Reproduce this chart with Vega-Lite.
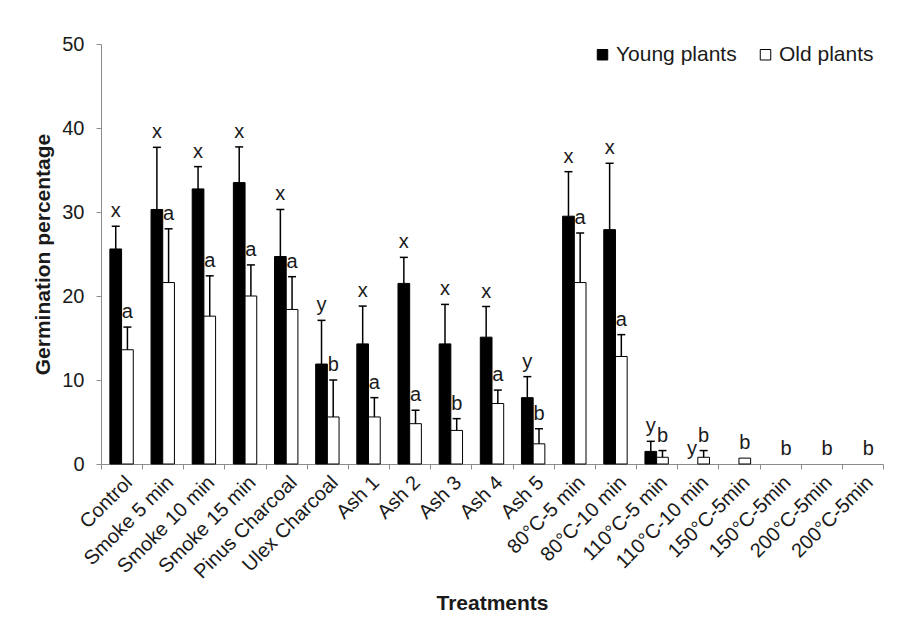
{
  "$schema": "https://vega.github.io/schema/vega-lite/v6.json",
  "autosize": {"type": "none"},
  "width": 782,
  "height": 420,
  "padding": {"left": 101, "top": 44, "right": 15, "bottom": 155},
  "background": "white",
  "config": {
    "font": "Liberation Sans",
    "view": {"stroke": null},
    "axis": {"grid": false, "domainColor": "#8c8c8c", "tickColor": "#8c8c8c", "labelColor": "#1a1a1a", "titleColor": "#1a1a1a", "labelFont": "Liberation Sans", "titleFont": "Liberation Sans"}
  },
  "data": {
    "values": [
      {"treatment": "Control", "group": "Young plants", "mean": 25.6, "upper": 28.3, "letter": "x"},
      {"treatment": "Control", "group": "Old plants", "mean": 13.6, "upper": 16.3, "letter": "a"},
      {"treatment": "Smoke 5 min", "group": "Young plants", "mean": 30.3, "upper": 37.7, "letter": "x"},
      {"treatment": "Smoke 5 min", "group": "Old plants", "mean": 21.6, "upper": 28.0, "letter": "a"},
      {"treatment": "Smoke 10 min", "group": "Young plants", "mean": 32.75, "upper": 35.4, "letter": "x"},
      {"treatment": "Smoke 10 min", "group": "Old plants", "mean": 17.6, "upper": 22.4, "letter": "a"},
      {"treatment": "Smoke 15 min", "group": "Young plants", "mean": 33.5, "upper": 37.75, "letter": "x"},
      {"treatment": "Smoke 15 min", "group": "Old plants", "mean": 20.0, "upper": 23.7, "letter": "a"},
      {"treatment": "Pinus Charcoal", "group": "Young plants", "mean": 24.7, "upper": 30.3, "letter": "x"},
      {"treatment": "Pinus Charcoal", "group": "Old plants", "mean": 18.4, "upper": 22.3, "letter": "a"},
      {"treatment": "Ulex Charcoal", "group": "Young plants", "mean": 11.9, "upper": 17.1, "letter": "y"},
      {"treatment": "Ulex Charcoal", "group": "Old plants", "mean": 5.6, "upper": 10.0, "letter": "b"},
      {"treatment": "Ash 1", "group": "Young plants", "mean": 14.3, "upper": 18.8, "letter": "x"},
      {"treatment": "Ash 1", "group": "Old plants", "mean": 5.6, "upper": 7.9, "letter": "a"},
      {"treatment": "Ash 2", "group": "Young plants", "mean": 21.5, "upper": 24.6, "letter": "x"},
      {"treatment": "Ash 2", "group": "Old plants", "mean": 4.8, "upper": 6.4, "letter": "a"},
      {"treatment": "Ash 3", "group": "Young plants", "mean": 14.3, "upper": 19.0, "letter": "x"},
      {"treatment": "Ash 3", "group": "Old plants", "mean": 4.0, "upper": 5.4, "letter": "b"},
      {"treatment": "Ash 4", "group": "Young plants", "mean": 15.1, "upper": 18.75, "letter": "x"},
      {"treatment": "Ash 4", "group": "Old plants", "mean": 7.2, "upper": 8.8, "letter": "a"},
      {"treatment": "Ash 5", "group": "Young plants", "mean": 7.9, "upper": 10.4, "letter": "y"},
      {"treatment": "Ash 5", "group": "Old plants", "mean": 2.4, "upper": 4.2, "letter": "b"},
      {"treatment": "80°C-5 min", "group": "Young plants", "mean": 29.5, "upper": 34.8, "letter": "x"},
      {"treatment": "80°C-5 min", "group": "Old plants", "mean": 21.6, "upper": 27.5, "letter": "a"},
      {"treatment": "80°C-10 min", "group": "Young plants", "mean": 27.9, "upper": 35.8, "letter": "x"},
      {"treatment": "80°C-10 min", "group": "Old plants", "mean": 12.8, "upper": 15.4, "letter": "a"},
      {"treatment": "110°C-5 min", "group": "Young plants", "mean": 1.5, "upper": 2.7, "letter": "y"},
      {"treatment": "110°C-5 min", "group": "Old plants", "mean": 0.8, "upper": 1.6, "letter": "b"},
      {"treatment": "110°C-10 min", "group": "Young plants", "mean": 0, "upper": 0, "letter": "y"},
      {"treatment": "110°C-10 min", "group": "Old plants", "mean": 0.8, "upper": 1.6, "letter": "b"},
      {"treatment": "150°C-5min", "group": "Young plants", "mean": 0, "upper": 0, "letter": ""},
      {"treatment": "150°C-5min", "group": "Old plants", "mean": 0.7, "upper": 0.7, "letter": "b"},
      {"treatment": "150°C-5min (2)", "group": "Young plants", "mean": 0, "upper": 0, "letter": ""},
      {"treatment": "150°C-5min (2)", "group": "Old plants", "mean": 0, "upper": 0, "letter": "b"},
      {"treatment": "200°C-5min", "group": "Young plants", "mean": 0, "upper": 0, "letter": ""},
      {"treatment": "200°C-5min", "group": "Old plants", "mean": 0, "upper": 0, "letter": "b"},
      {"treatment": "200°C-5min (2)", "group": "Young plants", "mean": 0, "upper": 0, "letter": ""},
      {"treatment": "200°C-5min (2)", "group": "Old plants", "mean": 0, "upper": 0, "letter": "b"}
    ]
  },
  "encoding": {
    "x": {
      "field": "treatment",
      "type": "nominal",
      "scale": {
        "domain": ["Control", "Smoke 5 min", "Smoke 10 min", "Smoke 15 min", "Pinus Charcoal", "Ulex Charcoal", "Ash 1", "Ash 2", "Ash 3", "Ash 4", "Ash 5", "80°C-5 min", "80°C-10 min", "110°C-5 min", "110°C-10 min", "150°C-5min", "150°C-5min (2)", "200°C-5min", "200°C-5min (2)"],
        "paddingInner": 0,
        "paddingOuter": 0
      },
      "axis": {
        "title": "Treatments",
        "titleFontSize": 21,
        "titleFontWeight": "bold",
        "titlePadding": 10,
        "labelAngle": -45,
        "labelFontSize": 20,
        "labelPadding": 3,
        "tickSize": 5,
        "tickBand": "extent",
        "labelExpr": "replace(datum.label, ' (2)', '')"
      }
    },
    "xOffset": {
      "field": "group",
      "type": "nominal",
      "scale": {"domain": ["Young plants", "Old plants"], "paddingInner": 0, "paddingOuter": 0.76}
    }
  },
  "layer": [
    {
      "transform": [{"filter": "datum.mean > 0"}],
      "mark": {"type": "bar", "stroke": "black", "strokeWidth": 1},
      "encoding": {
        "y": {
          "field": "mean",
          "type": "quantitative",
          "scale": {"domain": [0, 50], "nice": false},
          "axis": {
            "title": "Germination percentage",
            "titleFontSize": 21,
            "titleFontWeight": "bold",
            "titlePadding": 8,
            "values": [0, 10, 20, 30, 40, 50],
            "labelFontSize": 20,
            "labelPadding": 12,
            "tickSize": 5
          }
        },
        "color": {
          "field": "group",
          "type": "nominal",
          "scale": {"domain": ["Young plants", "Old plants"], "range": ["black", "white"]},
          "legend": {
            "title": null,
            "orient": "none",
            "legendX": 491,
            "legendY": 0,
            "direction": "horizontal",
            "labelFontSize": 21,
            "labelColor": "#1a1a1a",
            "symbolType": "square",
            "symbolSize": 110,
            "symbolStrokeColor": "black",
            "symbolStrokeWidth": 1,
            "labelOffset": 3,
            "columnPadding": 18,
            "padding": 0
          }
        }
      }
    },
    {
      "transform": [{"filter": "datum.upper > datum.mean"}],
      "mark": {"type": "rule", "color": "black", "strokeWidth": 1.5},
      "encoding": {
        "y": {"field": "mean", "type": "quantitative"},
        "y2": {"field": "upper"}
      }
    },
    {
      "transform": [{"filter": "datum.upper > datum.mean"}],
      "mark": {"type": "tick", "color": "black", "size": 8, "thickness": 1.5, "opacity": 1},
      "encoding": {
        "y": {"field": "upper", "type": "quantitative"}
      }
    },
    {
      "transform": [{"filter": "datum.letter != ''"}],
      "mark": {"type": "text", "fontSize": 20, "color": "#1a1a1a", "baseline": "alphabetic", "dy": -9},
      "encoding": {
        "y": {"field": "upper", "type": "quantitative"},
        "text": {"field": "letter"}
      }
    }
  ]
}
